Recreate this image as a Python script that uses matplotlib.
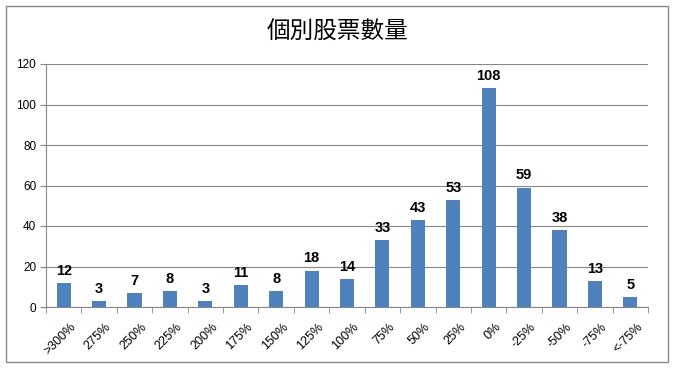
import matplotlib
matplotlib.use("Agg")
import matplotlib.pyplot as plt
from matplotlib.patches import Rectangle
import matplotlib.transforms as mtransforms
import numpy as np

plt.rcParams['font.family'] = ['Liberation Sans', 'Noto Sans CJK TC', 'DejaVu Sans']

title = "個別股票數量"
categories = [">300%", "275%", "250%", "225%", "200%", "175%", "150%", "125%", "100%",
              "75%", "50%", "25%", "0%", "-25%", "-50%", "-75%", "<-75%"]
values = [12, 3, 7, 8, 3, 11, 8, 18, 14, 33, 43, 53, 108, 59, 38, 13, 5]
yticks = [0, 20, 40, 60, 80, 100, 120]

fig = plt.figure(figsize=(6.73, 3.73), dpi=100)
fig.patches.append(Rectangle((6/673, 1-362/373), 662/673, 356/373, transform=fig.transFigure,
                             fill=False, edgecolor='#878787', linewidth=1.0))

ax = fig.add_axes([46/673, 1-307/373, (648-46)/673, (307-64)/373])
x = np.arange(len(categories))
ax.bar(x, values, width=0.4, color='#4F81BD', zorder=3)
for xi, v in zip(x, values):
    ax.text(xi, v + 2.5, str(v), ha='center', va='bottom', fontsize=10.5, fontweight='bold', color='black')

ax.set_xlim(-0.5, len(categories) - 0.5)
ax.set_ylim(0, 120)
ax.set_yticks(yticks)
ax.set_yticklabels([str(t) for t in yticks], fontsize=8.5)
ax.grid(axis='y', color='#868686', linewidth=0.8, zorder=0)
ax.set_axisbelow(True)

ax.set_xticks(x)
ax.set_xticklabels(categories, rotation=45, ha='right', rotation_mode='anchor', fontsize=9)
ax.tick_params(axis='x', length=0, pad=10)
offset = mtransforms.ScaledTranslation(6/100, 0, fig.dpi_scale_trans)
for lbl in ax.get_xticklabels():
    lbl.set_transform(lbl.get_transform() + offset)
ax.set_xticks(np.arange(-0.5, len(categories), 1.0), minor=True)
ax.tick_params(axis='x', which='minor', length=4, color='#868686', direction='out')
ax.tick_params(axis='y', length=4, color='#868686', direction='out', pad=3)

for s in ['top', 'right']:
    ax.spines[s].set_visible(False)
ax.spines['left'].set_color('#868686')
ax.spines['bottom'].set_color('#868686')

fig.text(337/673, 1-32/373, title, ha='center', va='center', fontsize=17,
         family=['Noto Sans CJK TC', 'DejaVu Sans'])

fig.savefig('out.png', dpi=100)
